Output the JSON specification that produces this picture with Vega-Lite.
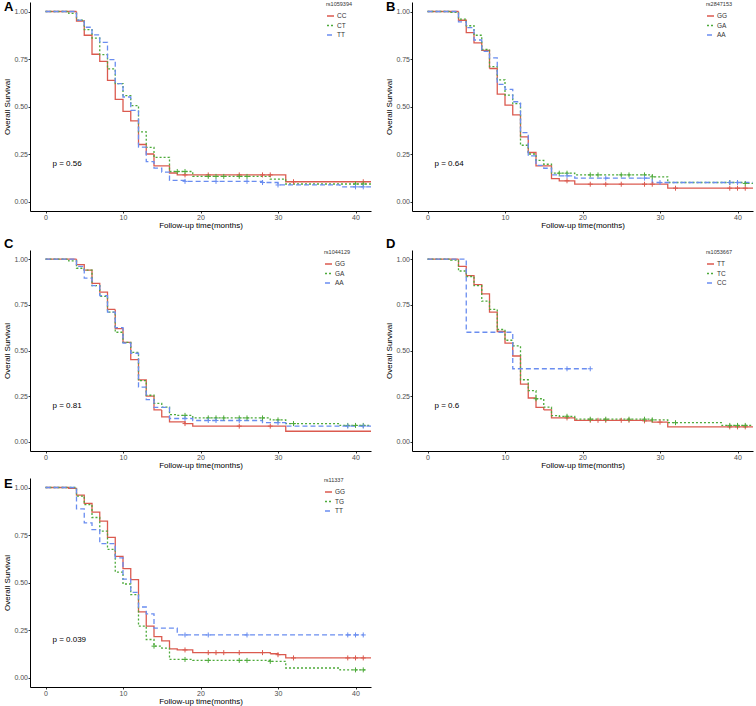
{
"$schema": "https://vega.github.io/schema/vega-lite/v6.json",
"padding": {"left": 3, "top": 1, "right": 2, "bottom": 0},
"columns": 2,
"spacing": {"row": 8, "column": 14},
"align": "each",
"resolve": {"scale": {"color": "independent", "strokeDash": "independent", "x": "independent", "y": "independent"}, "legend": {"color": "independent", "strokeDash": "independent"}},
"datasets": {
"km": [
{"p":"A","g":"CC","t":0,"s":1},{"p":"A","g":"CC","t":4,"s":0.95},{"p":"A","g":"CC","t":5,"s":0.875},{"p":"A","g":"CC","t":6,"s":0.775},{"p":"A","g":"CC","t":7,"s":0.737},{"p":"A","g":"CC","t":8,"s":0.637},{"p":"A","g":"CC","t":9,"s":0.537},{"p":"A","g":"CC","t":10,"s":0.474},{"p":"A","g":"CC","t":11,"s":0.424},{"p":"A","g":"CC","t":12,"s":0.30},{"p":"A","g":"CC","t":13,"s":0.25},{"p":"A","g":"CC","t":14,"s":0.187},{"p":"A","g":"CC","t":16,"s":0.15},{"p":"A","g":"CC","t":17,"s":0.14},{"p":"A","g":"CC","t":31,"s":0.104},{"p":"A","g":"CC","t":42,"s":0.104},
{"p":"A","g":"CT","t":0,"s":1},{"p":"A","g":"CT","t":3,"s":0.99},{"p":"A","g":"CT","t":4,"s":0.955},{"p":"A","g":"CT","t":5,"s":0.905},{"p":"A","g":"CT","t":6,"s":0.86},{"p":"A","g":"CT","t":7,"s":0.773},{"p":"A","g":"CT","t":8,"s":0.698},{"p":"A","g":"CT","t":9,"s":0.62},{"p":"A","g":"CT","t":10,"s":0.557},{"p":"A","g":"CT","t":11,"s":0.505},{"p":"A","g":"CT","t":12,"s":0.366},{"p":"A","g":"CT","t":13,"s":0.285},{"p":"A","g":"CT","t":14,"s":0.232},{"p":"A","g":"CT","t":16,"s":0.158},{"p":"A","g":"CT","t":19,"s":0.132},{"p":"A","g":"CT","t":29,"s":0.118},{"p":"A","g":"CT","t":31,"s":0.092},{"p":"A","g":"CT","t":42,"s":0.092},
{"p":"A","g":"TT","t":0,"s":1},{"p":"A","g":"TT","t":4,"s":0.955},{"p":"A","g":"TT","t":5,"s":0.917},{"p":"A","g":"TT","t":6,"s":0.877},{"p":"A","g":"TT","t":7,"s":0.838},{"p":"A","g":"TT","t":8,"s":0.747},{"p":"A","g":"TT","t":9,"s":0.62},{"p":"A","g":"TT","t":10,"s":0.55},{"p":"A","g":"TT","t":11,"s":0.48},{"p":"A","g":"TT","t":12,"s":0.286},{"p":"A","g":"TT","t":13,"s":0.21},{"p":"A","g":"TT","t":14,"s":0.176},{"p":"A","g":"TT","t":15,"s":0.155},{"p":"A","g":"TT","t":16,"s":0.111},{"p":"A","g":"TT","t":18,"s":0.106},{"p":"A","g":"TT","t":28,"s":0.10},{"p":"A","g":"TT","t":30,"s":0.087},{"p":"A","g":"TT","t":38,"s":0.077},{"p":"A","g":"TT","t":42,"s":0.077},
{"p":"B","g":"GG","t":0,"s":1},{"p":"B","g":"GG","t":4,"s":0.954},{"p":"B","g":"GG","t":5,"s":0.889},{"p":"B","g":"GG","t":6,"s":0.835},{"p":"B","g":"GG","t":7,"s":0.795},{"p":"B","g":"GG","t":8,"s":0.70},{"p":"B","g":"GG","t":9,"s":0.565},{"p":"B","g":"GG","t":10,"s":0.507},{"p":"B","g":"GG","t":11,"s":0.456},{"p":"B","g":"GG","t":12,"s":0.34},{"p":"B","g":"GG","t":13,"s":0.258},{"p":"B","g":"GG","t":14,"s":0.188},{"p":"B","g":"GG","t":16,"s":0.12},{"p":"B","g":"GG","t":17,"s":0.109},{"p":"B","g":"GG","t":19,"s":0.091},{"p":"B","g":"GG","t":31,"s":0.07},{"p":"B","g":"GG","t":42,"s":0.07},
{"p":"B","g":"GA","t":0,"s":1},{"p":"B","g":"GA","t":3,"s":0.995},{"p":"B","g":"GA","t":4,"s":0.96},{"p":"B","g":"GA","t":5,"s":0.925},{"p":"B","g":"GA","t":6,"s":0.875},{"p":"B","g":"GA","t":7,"s":0.80},{"p":"B","g":"GA","t":8,"s":0.71},{"p":"B","g":"GA","t":9,"s":0.64},{"p":"B","g":"GA","t":10,"s":0.56},{"p":"B","g":"GA","t":11,"s":0.515},{"p":"B","g":"GA","t":12,"s":0.296},{"p":"B","g":"GA","t":13,"s":0.25},{"p":"B","g":"GA","t":14,"s":0.216},{"p":"B","g":"GA","t":15,"s":0.196},{"p":"B","g":"GA","t":16,"s":0.149},{"p":"B","g":"GA","t":19,"s":0.14},{"p":"B","g":"GA","t":29,"s":0.13},{"p":"B","g":"GA","t":31,"s":0.10},{"p":"B","g":"GA","t":41,"s":0.095},{"p":"B","g":"GA","t":42,"s":0.095},
{"p":"B","g":"AA","t":0,"s":1},{"p":"B","g":"AA","t":4,"s":0.945},{"p":"B","g":"AA","t":5,"s":0.915},{"p":"B","g":"AA","t":6,"s":0.85},{"p":"B","g":"AA","t":7,"s":0.79},{"p":"B","g":"AA","t":8,"s":0.756},{"p":"B","g":"AA","t":9,"s":0.616},{"p":"B","g":"AA","t":10,"s":0.59},{"p":"B","g":"AA","t":11,"s":0.525},{"p":"B","g":"AA","t":12,"s":0.363},{"p":"B","g":"AA","t":13,"s":0.24},{"p":"B","g":"AA","t":14,"s":0.19},{"p":"B","g":"AA","t":15,"s":0.175},{"p":"B","g":"AA","t":16,"s":0.14},{"p":"B","g":"AA","t":17,"s":0.135},{"p":"B","g":"AA","t":19,"s":0.123},{"p":"B","g":"AA","t":29,"s":0.10},{"p":"B","g":"AA","t":42,"s":0.10},
{"p":"C","g":"GG","t":0,"s":1},{"p":"C","g":"GG","t":4,"s":0.97},{"p":"C","g":"GG","t":5,"s":0.94},{"p":"C","g":"GG","t":6,"s":0.867},{"p":"C","g":"GG","t":7,"s":0.82},{"p":"C","g":"GG","t":8,"s":0.725},{"p":"C","g":"GG","t":9,"s":0.62},{"p":"C","g":"GG","t":10,"s":0.545},{"p":"C","g":"GG","t":11,"s":0.45},{"p":"C","g":"GG","t":12,"s":0.339},{"p":"C","g":"GG","t":13,"s":0.25},{"p":"C","g":"GG","t":14,"s":0.175},{"p":"C","g":"GG","t":15,"s":0.137},{"p":"C","g":"GG","t":16,"s":0.109},{"p":"C","g":"GG","t":18,"s":0.10},{"p":"C","g":"GG","t":19,"s":0.086},{"p":"C","g":"GG","t":31,"s":0.058},{"p":"C","g":"GG","t":42,"s":0.058},
{"p":"C","g":"GA","t":0,"s":1},{"p":"C","g":"GA","t":3,"s":0.99},{"p":"C","g":"GA","t":4,"s":0.95},{"p":"C","g":"GA","t":5,"s":0.94},{"p":"C","g":"GA","t":6,"s":0.855},{"p":"C","g":"GA","t":7,"s":0.796},{"p":"C","g":"GA","t":8,"s":0.71},{"p":"C","g":"GA","t":9,"s":0.60},{"p":"C","g":"GA","t":10,"s":0.545},{"p":"C","g":"GA","t":11,"s":0.49},{"p":"C","g":"GA","t":12,"s":0.335},{"p":"C","g":"GA","t":13,"s":0.255},{"p":"C","g":"GA","t":14,"s":0.211},{"p":"C","g":"GA","t":15,"s":0.19},{"p":"C","g":"GA","t":16,"s":0.149},{"p":"C","g":"GA","t":17,"s":0.145},{"p":"C","g":"GA","t":19,"s":0.131},{"p":"C","g":"GA","t":29,"s":0.12},{"p":"C","g":"GA","t":31,"s":0.10},{"p":"C","g":"GA","t":38,"s":0.09},{"p":"C","g":"GA","t":42,"s":0.09},
{"p":"C","g":"AA","t":0,"s":1},{"p":"C","g":"AA","t":4,"s":0.96},{"p":"C","g":"AA","t":5,"s":0.896},{"p":"C","g":"AA","t":6,"s":0.855},{"p":"C","g":"AA","t":7,"s":0.80},{"p":"C","g":"AA","t":8,"s":0.71},{"p":"C","g":"AA","t":9,"s":0.625},{"p":"C","g":"AA","t":10,"s":0.54},{"p":"C","g":"AA","t":11,"s":0.485},{"p":"C","g":"AA","t":12,"s":0.30},{"p":"C","g":"AA","t":13,"s":0.231},{"p":"C","g":"AA","t":14,"s":0.189},{"p":"C","g":"AA","t":16,"s":0.128},{"p":"C","g":"AA","t":19,"s":0.117},{"p":"C","g":"AA","t":28,"s":0.105},{"p":"C","g":"AA","t":31,"s":0.086},{"p":"C","g":"AA","t":42,"s":0.086},
{"p":"D","g":"TT","t":0,"s":1},{"p":"D","g":"TT","t":4,"s":0.96},{"p":"D","g":"TT","t":5,"s":0.91},{"p":"D","g":"TT","t":6,"s":0.86},{"p":"D","g":"TT","t":7,"s":0.81},{"p":"D","g":"TT","t":8,"s":0.71},{"p":"D","g":"TT","t":9,"s":0.604},{"p":"D","g":"TT","t":10,"s":0.54},{"p":"D","g":"TT","t":11,"s":0.47},{"p":"D","g":"TT","t":12,"s":0.316},{"p":"D","g":"TT","t":13,"s":0.24},{"p":"D","g":"TT","t":14,"s":0.189},{"p":"D","g":"TT","t":15,"s":0.175},{"p":"D","g":"TT","t":16,"s":0.131},{"p":"D","g":"TT","t":19,"s":0.118},{"p":"D","g":"TT","t":28,"s":0.115},{"p":"D","g":"TT","t":29,"s":0.108},{"p":"D","g":"TT","t":31,"s":0.082},{"p":"D","g":"TT","t":42,"s":0.082},
{"p":"D","g":"TC","t":0,"s":1},{"p":"D","g":"TC","t":3,"s":0.995},{"p":"D","g":"TC","t":4,"s":0.935},{"p":"D","g":"TC","t":5,"s":0.905},{"p":"D","g":"TC","t":6,"s":0.855},{"p":"D","g":"TC","t":7,"s":0.77},{"p":"D","g":"TC","t":8,"s":0.725},{"p":"D","g":"TC","t":9,"s":0.615},{"p":"D","g":"TC","t":10,"s":0.556},{"p":"D","g":"TC","t":11,"s":0.525},{"p":"D","g":"TC","t":12,"s":0.34},{"p":"D","g":"TC","t":13,"s":0.28},{"p":"D","g":"TC","t":14,"s":0.236},{"p":"D","g":"TC","t":15,"s":0.19},{"p":"D","g":"TC","t":16,"s":0.144},{"p":"D","g":"TC","t":17,"s":0.14},{"p":"D","g":"TC","t":19,"s":0.124},{"p":"D","g":"TC","t":29,"s":0.12},{"p":"D","g":"TC","t":31,"s":0.105},{"p":"D","g":"TC","t":38,"s":0.09},{"p":"D","g":"TC","t":42,"s":0.09},
{"p":"D","g":"CC","t":0,"s":1},{"p":"D","g":"CC","t":5,"s":0.60},{"p":"D","g":"CC","t":11,"s":0.40},{"p":"D","g":"CC","t":21,"s":0.40},
{"p":"E","g":"GG","t":0,"s":1},{"p":"E","g":"GG","t":3,"s":0.995},{"p":"E","g":"GG","t":4,"s":0.96},{"p":"E","g":"GG","t":5,"s":0.916},{"p":"E","g":"GG","t":6,"s":0.87},{"p":"E","g":"GG","t":7,"s":0.823},{"p":"E","g":"GG","t":8,"s":0.737},{"p":"E","g":"GG","t":9,"s":0.637},{"p":"E","g":"GG","t":10,"s":0.573},{"p":"E","g":"GG","t":11,"s":0.515},{"p":"E","g":"GG","t":12,"s":0.345},{"p":"E","g":"GG","t":13,"s":0.27},{"p":"E","g":"GG","t":14,"s":0.215},{"p":"E","g":"GG","t":15,"s":0.193},{"p":"E","g":"GG","t":16,"s":0.151},{"p":"E","g":"GG","t":17,"s":0.145},{"p":"E","g":"GG","t":19,"s":0.131},{"p":"E","g":"GG","t":29,"s":0.125},{"p":"E","g":"GG","t":30,"s":0.12},{"p":"E","g":"GG","t":31,"s":0.103},{"p":"E","g":"GG","t":42,"s":0.103},
{"p":"E","g":"TG","t":0,"s":1},{"p":"E","g":"TG","t":4,"s":0.955},{"p":"E","g":"TG","t":5,"s":0.91},{"p":"E","g":"TG","t":6,"s":0.842},{"p":"E","g":"TG","t":7,"s":0.77},{"p":"E","g":"TG","t":8,"s":0.674},{"p":"E","g":"TG","t":9,"s":0.555},{"p":"E","g":"TG","t":10,"s":0.492},{"p":"E","g":"TG","t":11,"s":0.436},{"p":"E","g":"TG","t":12,"s":0.27},{"p":"E","g":"TG","t":13,"s":0.20},{"p":"E","g":"TG","t":14,"s":0.165},{"p":"E","g":"TG","t":15,"s":0.155},{"p":"E","g":"TG","t":16,"s":0.095},{"p":"E","g":"TG","t":19,"s":0.09},{"p":"E","g":"TG","t":29,"s":0.085},{"p":"E","g":"TG","t":31,"s":0.05},{"p":"E","g":"TG","t":38,"s":0.04},{"p":"E","g":"TG","t":41.5,"s":0.04},
{"p":"E","g":"TT","t":0,"s":1},{"p":"E","g":"TT","t":4,"s":0.888},{"p":"E","g":"TT","t":5,"s":0.814},{"p":"E","g":"TT","t":6,"s":0.778},{"p":"E","g":"TT","t":7,"s":0.705},{"p":"E","g":"TT","t":9,"s":0.63},{"p":"E","g":"TT","t":10,"s":0.518},{"p":"E","g":"TT","t":11,"s":0.448},{"p":"E","g":"TT","t":12,"s":0.371},{"p":"E","g":"TT","t":13,"s":0.335},{"p":"E","g":"TT","t":14,"s":0.26},{"p":"E","g":"TT","t":17,"s":0.224},{"p":"E","g":"TT","t":41,"s":0.224}
],
"cens": [
{"p":"A","g":"CC","t":18,"s":0.14},{"p":"A","g":"CC","t":21,"s":0.14},{"p":"A","g":"CC","t":25,"s":0.14},{"p":"A","g":"CC","t":28,"s":0.14},{"p":"A","g":"CC","t":29,"s":0.14},{"p":"A","g":"CC","t":32,"s":0.104},{"p":"A","g":"CC","t":41,"s":0.104},
{"p":"A","g":"CT","t":17,"s":0.158},{"p":"A","g":"CT","t":18,"s":0.158},{"p":"A","g":"CT","t":21,"s":0.132},{"p":"A","g":"CT","t":22,"s":0.132},{"p":"A","g":"CT","t":23,"s":0.132},{"p":"A","g":"CT","t":25,"s":0.132},{"p":"A","g":"CT","t":26,"s":0.132},{"p":"A","g":"CT","t":40,"s":0.092},{"p":"A","g":"CT","t":41,"s":0.092},
{"p":"A","g":"TT","t":18,"s":0.106},{"p":"A","g":"TT","t":22,"s":0.106},{"p":"A","g":"TT","t":26,"s":0.106},{"p":"A","g":"TT","t":28,"s":0.10},{"p":"A","g":"TT","t":30,"s":0.087},{"p":"A","g":"TT","t":40,"s":0.077},{"p":"A","g":"TT","t":41,"s":0.077},
{"p":"B","g":"GG","t":18,"s":0.109},{"p":"B","g":"GG","t":21,"s":0.091},{"p":"B","g":"GG","t":23,"s":0.091},{"p":"B","g":"GG","t":25,"s":0.091},{"p":"B","g":"GG","t":28,"s":0.091},{"p":"B","g":"GG","t":29,"s":0.091},{"p":"B","g":"GG","t":32,"s":0.07},{"p":"B","g":"GG","t":39,"s":0.07},{"p":"B","g":"GG","t":40,"s":0.07},{"p":"B","g":"GG","t":41,"s":0.07},
{"p":"B","g":"GA","t":17,"s":0.149},{"p":"B","g":"GA","t":18,"s":0.149},{"p":"B","g":"GA","t":21,"s":0.14},{"p":"B","g":"GA","t":22,"s":0.14},{"p":"B","g":"GA","t":25,"s":0.14},{"p":"B","g":"GA","t":26,"s":0.14},{"p":"B","g":"GA","t":28,"s":0.14},{"p":"B","g":"GA","t":29,"s":0.13},{"p":"B","g":"GA","t":39,"s":0.10},{"p":"B","g":"GA","t":40,"s":0.10},{"p":"B","g":"GA","t":41,"s":0.095},
{"p":"B","g":"AA","t":18,"s":0.135},{"p":"B","g":"AA","t":23,"s":0.123},{"p":"B","g":"AA","t":28,"s":0.123},{"p":"B","g":"AA","t":30,"s":0.10},{"p":"B","g":"AA","t":39,"s":0.10},{"p":"B","g":"AA","t":40,"s":0.10},
{"p":"C","g":"GG","t":18,"s":0.10},{"p":"C","g":"GG","t":25,"s":0.086},{"p":"C","g":"GG","t":29,"s":0.086},
{"p":"C","g":"GA","t":18,"s":0.145},{"p":"C","g":"GA","t":21,"s":0.131},{"p":"C","g":"GA","t":22,"s":0.131},{"p":"C","g":"GA","t":23,"s":0.131},{"p":"C","g":"GA","t":25,"s":0.131},{"p":"C","g":"GA","t":26,"s":0.131},{"p":"C","g":"GA","t":28,"s":0.131},{"p":"C","g":"GA","t":30,"s":0.12},{"p":"C","g":"GA","t":32,"s":0.10},{"p":"C","g":"GA","t":39,"s":0.09},{"p":"C","g":"GA","t":40,"s":0.09},{"p":"C","g":"GA","t":41,"s":0.09},
{"p":"C","g":"AA","t":18,"s":0.128},{"p":"C","g":"AA","t":21,"s":0.117},{"p":"C","g":"AA","t":22,"s":0.117},{"p":"C","g":"AA","t":25,"s":0.117},{"p":"C","g":"AA","t":30,"s":0.105},{"p":"C","g":"AA","t":39,"s":0.086},{"p":"C","g":"AA","t":41,"s":0.086},
{"p":"D","g":"TT","t":18,"s":0.131},{"p":"D","g":"TT","t":21,"s":0.118},{"p":"D","g":"TT","t":22,"s":0.118},{"p":"D","g":"TT","t":23,"s":0.118},{"p":"D","g":"TT","t":25,"s":0.118},{"p":"D","g":"TT","t":26,"s":0.118},{"p":"D","g":"TT","t":28,"s":0.115},{"p":"D","g":"TT","t":30,"s":0.108},{"p":"D","g":"TT","t":39,"s":0.082},{"p":"D","g":"TT","t":40,"s":0.082},{"p":"D","g":"TT","t":41,"s":0.082},
{"p":"D","g":"TC","t":14,"s":0.236},{"p":"D","g":"TC","t":18,"s":0.14},{"p":"D","g":"TC","t":21,"s":0.124},{"p":"D","g":"TC","t":23,"s":0.124},{"p":"D","g":"TC","t":26,"s":0.124},{"p":"D","g":"TC","t":28,"s":0.124},{"p":"D","g":"TC","t":29,"s":0.12},{"p":"D","g":"TC","t":32,"s":0.105},{"p":"D","g":"TC","t":39,"s":0.09},{"p":"D","g":"TC","t":40,"s":0.09},{"p":"D","g":"TC","t":41,"s":0.09},
{"p":"D","g":"CC","t":18,"s":0.40},{"p":"D","g":"CC","t":21,"s":0.40},
{"p":"E","g":"GG","t":18,"s":0.145},{"p":"E","g":"GG","t":21,"s":0.131},{"p":"E","g":"GG","t":22,"s":0.131},{"p":"E","g":"GG","t":23,"s":0.131},{"p":"E","g":"GG","t":25,"s":0.131},{"p":"E","g":"GG","t":28,"s":0.131},{"p":"E","g":"GG","t":30,"s":0.12},{"p":"E","g":"GG","t":32,"s":0.103},{"p":"E","g":"GG","t":39,"s":0.103},{"p":"E","g":"GG","t":40,"s":0.103},{"p":"E","g":"GG","t":41,"s":0.103},
{"p":"E","g":"TG","t":14,"s":0.165},{"p":"E","g":"TG","t":18,"s":0.095},{"p":"E","g":"TG","t":21,"s":0.09},{"p":"E","g":"TG","t":25,"s":0.09},{"p":"E","g":"TG","t":26,"s":0.09},{"p":"E","g":"TG","t":29,"s":0.085},{"p":"E","g":"TG","t":40,"s":0.04},{"p":"E","g":"TG","t":41,"s":0.04},
{"p":"E","g":"TT","t":18,"s":0.224},{"p":"E","g":"TT","t":21,"s":0.224},{"p":"E","g":"TT","t":26,"s":0.224},{"p":"E","g":"TT","t":39,"s":0.224},{"p":"E","g":"TT","t":40,"s":0.224},{"p":"E","g":"TT","t":41,"s":0.224}
],
"pv": [
{"p":"A","lab":"p = 0.56"},{"p":"B","lab":"p = 0.64"},{"p":"C","lab":"p = 0.81"},{"p":"D","lab":"p = 0.6"},{"p":"E","lab":"p = 0.039"}
]
},
"concat": [
{
"width": 341, "height": 209,
"title": {"text": "A", "anchor": "start", "frame": "bounds", "offset": -12},
"layer": [
{"data": {"name": "km"}, "transform": [{"filter": "datum.p === 'A'"}],
 "mark": {"type": "line", "interpolate": "step-after", "strokeWidth": 1.3, "clip": true},
 "encoding": {
  "x": {"field": "t", "type": "quantitative", "scale": {"domain": [-2, 42], "nice": false, "zero": false}, "axis": {"values": [0,10,20,30,40], "title": "Follow-up time(months)"}},
  "y": {"field": "s", "type": "quantitative", "scale": {"domain": [-0.05, 1.05], "nice": false}, "axis": {"values": [0,0.25,0.5,0.75,1], "format": ".2f", "title": "Overall Survival"}},
  "color": {"field": "g", "type": "nominal", "scale": {"domain": ["CC","CT","TT"], "range": ["#DB5A4F","#4DAA3A","#6A8DF0"]}, "legend": {"title": "rs1059394", "orient": "none", "legendX": 296, "legendY": 0}},
  "strokeDash": {"field": "g", "type": "nominal", "scale": {"domain": ["CC","CT","TT"], "range": [[1,0],[2,2],[5,3]]}, "legend": {"title": "rs1059394", "orient": "none", "legendX": 296, "legendY": 0}}
 }},
{"data": {"name": "cens"}, "transform": [{"filter": "datum.p === 'A'"}],
 "mark": {"type": "point", "shape": "M-1,0H1M0,-1V1", "size": 25, "strokeWidth": 1, "filled": false, "opacity": 1},
 "encoding": {"x": {"field": "t", "type": "quantitative"}, "y": {"field": "s", "type": "quantitative"}, "color": {"field": "g", "type": "nominal"}}},
{"data": {"name": "pv"}, "transform": [{"filter": "datum.p === 'A'"}],
 "mark": {"type": "text", "align": "left", "baseline": "middle", "fontSize": 8, "color": "#000"},
 "encoding": {"x": {"datum": 0.9}, "y": {"datum": 0.195}, "text": {"field": "lab"}}}
]
},
{
"width": 341, "height": 209,
"title": {"text": "B", "anchor": "start", "frame": "bounds", "offset": -12},
"layer": [
{"data": {"name": "km"}, "transform": [{"filter": "datum.p === 'B'"}],
 "mark": {"type": "line", "interpolate": "step-after", "strokeWidth": 1.3, "clip": true},
 "encoding": {
  "x": {"field": "t", "type": "quantitative", "scale": {"domain": [-2, 42], "nice": false, "zero": false}, "axis": {"values": [0,10,20,30,40], "title": "Follow-up time(months)"}},
  "y": {"field": "s", "type": "quantitative", "scale": {"domain": [-0.05, 1.05], "nice": false}, "axis": {"values": [0,0.25,0.5,0.75,1], "format": ".2f", "title": "Overall Survival"}},
  "color": {"field": "g", "type": "nominal", "scale": {"domain": ["GG","GA","AA"], "range": ["#DB5A4F","#4DAA3A","#6A8DF0"]}, "legend": {"title": "rs2847153", "orient": "none", "legendX": 294, "legendY": 0}},
  "strokeDash": {"field": "g", "type": "nominal", "scale": {"domain": ["GG","GA","AA"], "range": [[1,0],[2,2],[5,3]]}, "legend": {"title": "rs2847153", "orient": "none", "legendX": 294, "legendY": 0}}
 }},
{"data": {"name": "cens"}, "transform": [{"filter": "datum.p === 'B'"}],
 "mark": {"type": "point", "shape": "M-1,0H1M0,-1V1", "size": 25, "strokeWidth": 1, "filled": false, "opacity": 1},
 "encoding": {"x": {"field": "t", "type": "quantitative"}, "y": {"field": "s", "type": "quantitative"}, "color": {"field": "g", "type": "nominal"}}},
{"data": {"name": "pv"}, "transform": [{"filter": "datum.p === 'B'"}],
 "mark": {"type": "text", "align": "left", "baseline": "middle", "fontSize": 8, "color": "#000"},
 "encoding": {"x": {"datum": 0.9}, "y": {"datum": 0.195}, "text": {"field": "lab"}}}
]
},
{
"width": 341, "height": 201,
"title": {"text": "C", "anchor": "start", "frame": "bounds", "offset": -1},
"layer": [
{"data": {"name": "km"}, "transform": [{"filter": "datum.p === 'C'"}],
 "mark": {"type": "line", "interpolate": "step-after", "strokeWidth": 1.3, "clip": true},
 "encoding": {
  "x": {"field": "t", "type": "quantitative", "scale": {"domain": [-2, 42], "nice": false, "zero": false}, "axis": {"values": [0,10,20,30,40], "title": "Follow-up time(months)"}},
  "y": {"field": "s", "type": "quantitative", "scale": {"domain": [-0.05, 1.05], "nice": false}, "axis": {"values": [0,0.25,0.5,0.75,1], "format": ".2f", "title": "Overall Survival"}},
  "color": {"field": "g", "type": "nominal", "scale": {"domain": ["GG","GA","AA"], "range": ["#DB5A4F","#4DAA3A","#6A8DF0"]}, "legend": {"title": "rs1044129", "orient": "none", "legendX": 294, "legendY": 0}},
  "strokeDash": {"field": "g", "type": "nominal", "scale": {"domain": ["GG","GA","AA"], "range": [[1,0],[2,2],[5,3]]}, "legend": {"title": "rs1044129", "orient": "none", "legendX": 294, "legendY": 0}}
 }},
{"data": {"name": "cens"}, "transform": [{"filter": "datum.p === 'C'"}],
 "mark": {"type": "point", "shape": "M-1,0H1M0,-1V1", "size": 25, "strokeWidth": 1, "filled": false, "opacity": 1},
 "encoding": {"x": {"field": "t", "type": "quantitative"}, "y": {"field": "s", "type": "quantitative"}, "color": {"field": "g", "type": "nominal"}}},
{"data": {"name": "pv"}, "transform": [{"filter": "datum.p === 'C'"}],
 "mark": {"type": "text", "align": "left", "baseline": "middle", "fontSize": 8, "color": "#000"},
 "encoding": {"x": {"datum": 0.9}, "y": {"datum": 0.195}, "text": {"field": "lab"}}}
]
},
{
"width": 341, "height": 201,
"title": {"text": "D", "anchor": "start", "frame": "bounds", "offset": -1},
"layer": [
{"data": {"name": "km"}, "transform": [{"filter": "datum.p === 'D'"}],
 "mark": {"type": "line", "interpolate": "step-after", "strokeWidth": 1.3, "clip": true},
 "encoding": {
  "x": {"field": "t", "type": "quantitative", "scale": {"domain": [-2, 42], "nice": false, "zero": false}, "axis": {"values": [0,10,20,30,40], "title": "Follow-up time(months)"}},
  "y": {"field": "s", "type": "quantitative", "scale": {"domain": [-0.05, 1.05], "nice": false}, "axis": {"values": [0,0.25,0.5,0.75,1], "format": ".2f", "title": "Overall Survival"}},
  "color": {"field": "g", "type": "nominal", "scale": {"domain": ["TT","TC","CC"], "range": ["#DB5A4F","#4DAA3A","#6A8DF0"]}, "legend": {"title": "rs1053667", "orient": "none", "legendX": 294, "legendY": 0}},
  "strokeDash": {"field": "g", "type": "nominal", "scale": {"domain": ["TT","TC","CC"], "range": [[1,0],[2,2],[5,3]]}, "legend": {"title": "rs1053667", "orient": "none", "legendX": 294, "legendY": 0}}
 }},
{"data": {"name": "cens"}, "transform": [{"filter": "datum.p === 'D'"}],
 "mark": {"type": "point", "shape": "M-1,0H1M0,-1V1", "size": 25, "strokeWidth": 1, "filled": false, "opacity": 1},
 "encoding": {"x": {"field": "t", "type": "quantitative"}, "y": {"field": "s", "type": "quantitative"}, "color": {"field": "g", "type": "nominal"}}},
{"data": {"name": "pv"}, "transform": [{"filter": "datum.p === 'D'"}],
 "mark": {"type": "text", "align": "left", "baseline": "middle", "fontSize": 8, "color": "#000"},
 "encoding": {"x": {"datum": 0.9}, "y": {"datum": 0.195}, "text": {"field": "lab"}}}
]
},
{
"width": 341, "height": 209,
"title": {"text": "E", "anchor": "start", "frame": "bounds", "offset": -13},
"layer": [
{"data": {"name": "km"}, "transform": [{"filter": "datum.p === 'E'"}],
 "mark": {"type": "line", "interpolate": "step-after", "strokeWidth": 1.3, "clip": true},
 "encoding": {
  "x": {"field": "t", "type": "quantitative", "scale": {"domain": [-2, 42], "nice": false, "zero": false}, "axis": {"values": [0,10,20,30,40], "title": "Follow-up time(months)"}},
  "y": {"field": "s", "type": "quantitative", "scale": {"domain": [-0.05, 1.05], "nice": false}, "axis": {"values": [0,0.25,0.5,0.75,1], "format": ".2f", "title": "Overall Survival"}},
  "color": {"field": "g", "type": "nominal", "scale": {"domain": ["GG","TG","TT"], "range": ["#DB5A4F","#4DAA3A","#6A8DF0"]}, "legend": {"title": "rs11337", "orient": "none", "legendX": 294, "legendY": 0}},
  "strokeDash": {"field": "g", "type": "nominal", "scale": {"domain": ["GG","TG","TT"], "range": [[1,0],[2,2],[5,3]]}, "legend": {"title": "rs11337", "orient": "none", "legendX": 294, "legendY": 0}}
 }},
{"data": {"name": "cens"}, "transform": [{"filter": "datum.p === 'E'"}],
 "mark": {"type": "point", "shape": "M-1,0H1M0,-1V1", "size": 25, "strokeWidth": 1, "filled": false, "opacity": 1},
 "encoding": {"x": {"field": "t", "type": "quantitative"}, "y": {"field": "s", "type": "quantitative"}, "color": {"field": "g", "type": "nominal"}}},
{"data": {"name": "pv"}, "transform": [{"filter": "datum.p === 'E'"}],
 "mark": {"type": "text", "align": "left", "baseline": "middle", "fontSize": 8, "color": "#000"},
 "encoding": {"x": {"datum": 0.9}, "y": {"datum": 0.195}, "text": {"field": "lab"}}}
]
}
],
"config": {
 "font": "Liberation Sans",
 "view": {"stroke": null},
 "axis": {"grid": false, "domainColor": "#000000", "domainWidth": 1, "tickColor": "#333333", "tickSize": 2, "labelFontSize": 7, "labelColor": "#4D4D4D", "titleFontSize": 8, "titleFontWeight": "normal", "titleColor": "#000000", "labelPadding": 0.5, "titlePadding": 1},
 "axisY": {"titlePadding": 2},
 "legend": {"symbolType": "stroke", "symbolSize": 49, "symbolStrokeWidth": 1.5, "labelFontSize": 6.5, "titleFontSize": 5.5, "titleFontWeight": "normal", "rowPadding": 1.5, "titlePadding": 4, "labelColor": "#333333", "titleColor": "#333333", "labelOffset": 2},
 "title": {"fontSize": 13, "fontWeight": "bold", "color": "#000000"}
}
}
